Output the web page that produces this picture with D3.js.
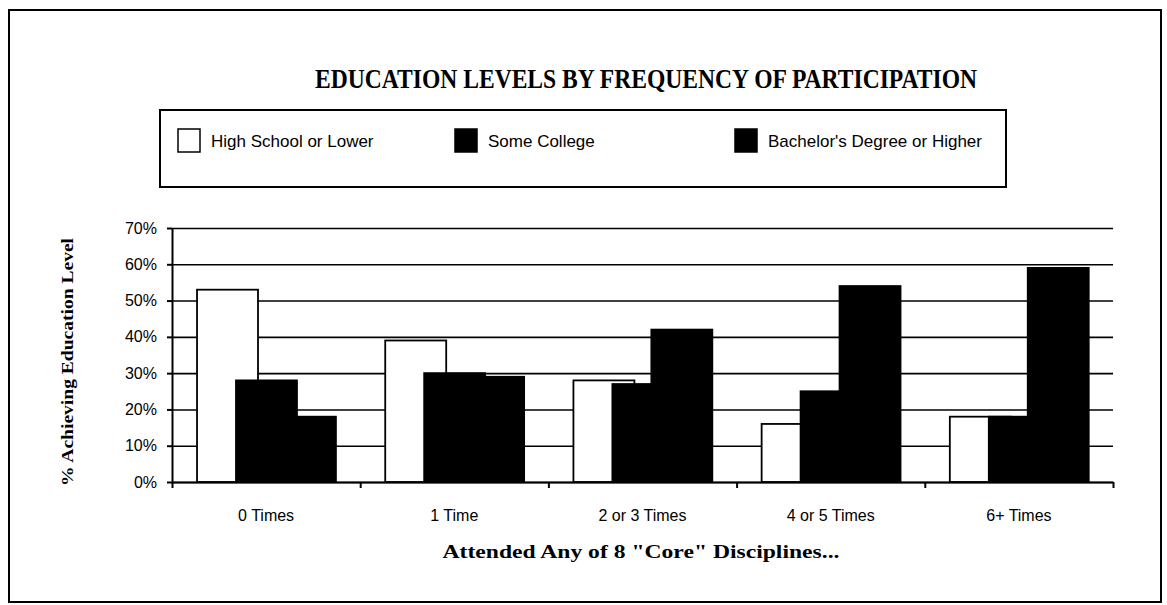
<!DOCTYPE html>
<html>
<head>
<meta charset="utf-8">
<title>Education Levels by Frequency of Participation</title>
<script src="https://cdn.jsdelivr.net/npm/d3@7"></script>
<style>
  body { margin: 0; background: #fff; }
  .axis path, .axis line { stroke: #000; stroke-width: 2; }
  .axis text { font-family: "Liberation Sans", Arial, sans-serif; fill: #000; }
  .grid line { stroke: #000; stroke-width: 1.6; }
  .grid path { display: none; }
</style>
</head>
<body>
<script>
// chart data
var categories = ["0 Times", "1 Time", "2 or 3 Times", "4 or 5 Times", "6+ Times"];
var series = ["High School or Lower", "Some College", "Bachelor's Degree or Higher"];
var highSchool = [0.53, 0.39, 0.28, 0.16, 0.18];
var someCollege = [0.28, 0.30, 0.27, 0.25, 0.18];
var bachelor = [0.18, 0.29, 0.42, 0.54, 0.59];
var yTicks = [0, 0.1, 0.2, 0.3, 0.4, 0.5, 0.6, 0.7];
var seriesFill = ["#fff", "#000", "#000"];

var values = [highSchool, someCollege, bachelor];

// canvas
var canvasX = 1167;
var canvasY = 605;
var plotLeft = 172, plotRight = 1113, plotTop = 228, plotBottom = 482;

var svg = d3.select("body")
            .append("svg")
            .attr("width", canvasX)
            .attr("height", canvasY);

// outer frame
svg.append("rect")
   .attr("x", 9).attr("y", 10)
   .attr("width", 1152).attr("height", 592)
   .attr("fill", "none").attr("stroke", "#000").attr("stroke-width", 2);

// title
svg.append("text")
   .attr("x", 646).attr("y", 88)
   .attr("text-anchor", "middle")
   .attr("textLength", 662)
   .attr("lengthAdjust", "spacingAndGlyphs")
   .style("font-family", "'Liberation Serif', 'Times New Roman', serif")
   .style("font-weight", "bold")
   .style("font-size", "27px")
   .text("EDUCATION LEVELS BY FREQUENCY OF PARTICIPATION");

// legend box
svg.append("rect")
   .attr("x", 160).attr("y", 110)
   .attr("width", 846).attr("height", 77)
   .attr("fill", "none").attr("stroke", "#000").attr("stroke-width", 2);

var legendX = [178, 455, 735];
var legend = svg.selectAll(".legend")
   .data(series)
   .enter()
   .append("g")
   .attr("class", "legend")
   .attr("transform", function(d, i) { return "translate(" + legendX[i] + ",129)"; });

legend.append("rect")
   .attr("width", 22).attr("height", 23)
   .attr("fill", function(d, i) { return seriesFill[i]; })
   .attr("stroke", "#000").attr("stroke-width", 1.5);

legend.append("text")
   .attr("x", 33).attr("y", 18)
   .style("font-family", "'Liberation Sans', Arial, sans-serif")
   .style("font-size", "17px")
   .text(function(d) { return d; });

// scales
var x0 = d3.scaleBand().domain(categories).range([plotLeft, plotRight]);
var bw = x0.bandwidth();
var x1 = d3.scalePoint().domain(series).range([0.133 * bw, 0.547 * bw]);
var barWidth = 0.324 * bw;
var y = d3.scaleLinear().domain([0, 0.7]).range([plotBottom, plotTop]);

// gridlines
svg.append("g")
   .attr("class", "grid")
   .attr("transform", "translate(" + plotLeft + ",0)")
   .call(d3.axisLeft(y).tickValues(yTicks).tickSize(-(plotRight - plotLeft)).tickFormat(""));

// bars
var groups = svg.selectAll(".series")
   .data(series)
   .enter()
   .append("g")
   .attr("class", "series");

groups.selectAll("rect")
   .data(function(s, si) {
       return categories.map(function(c, ci) {
           return {cat: c, ser: s, si: si, v: values[si][ci]};
       });
   })
   .enter()
   .append("rect")
   .attr("x", function(d) { return x0(d.cat) + x1(d.ser); })
   .attr("y", function(d) { return y(d.v); })
   .attr("width", barWidth)
   .attr("height", function(d) { return plotBottom - y(d.v); })
   .attr("fill", function(d) { return seriesFill[d.si]; })
   .attr("stroke", "#000")
   .attr("stroke-width", 1.8);

// y axis
svg.append("g")
   .attr("class", "axis")
   .attr("transform", "translate(" + plotLeft + ",0)")
   .call(d3.axisLeft(y).tickValues(yTicks).tickSize(5).tickSizeOuter(0).tickFormat(d3.format(".0%")))
   .selectAll("text")
   .style("font-size", "16px")
   .attr("x", -15);

// x axis with ticks at category boundaries
var xEdges = d3.scaleLinear().domain([0, categories.length]).range([plotLeft, plotRight]);
svg.append("g")
   .attr("class", "axis")
   .attr("transform", "translate(0," + plotBottom + ")")
   .call(d3.axisBottom(xEdges).ticks(categories.length).tickSize(6).tickSizeOuter(0).tickFormat(""));

svg.append("g")
   .attr("class", "axis")
   .attr("transform", "translate(0," + plotBottom + ")")
   .call(d3.axisBottom(x0).tickSize(0))
   .call(function(g) { g.select(".domain").remove(); })
   .selectAll("text")
   .attr("y", 28)
   .style("font-size", "16px");

// x label
svg.append("text")
   .attr("x", 641).attr("y", 558)
   .attr("text-anchor", "middle")
   .attr("textLength", 397)
   .attr("lengthAdjust", "spacingAndGlyphs")
   .style("font-family", "'Liberation Serif', 'Times New Roman', serif")
   .style("font-weight", "bold")
   .style("font-size", "18px")
   .text("Attended Any of 8 \"Core\" Disciplines...");

// y label
svg.append("text")
   .attr("transform", "rotate(-90)")
   .attr("x", -362).attr("y", 73)
   .attr("text-anchor", "middle")
   .attr("textLength", 248)
   .attr("lengthAdjust", "spacingAndGlyphs")
   .style("font-family", "'Liberation Serif', 'Times New Roman', serif")
   .style("font-weight", "bold")
   .style("font-size", "17px")
   .text("% Achieving Education Level");
</script>
</body>
</html>
